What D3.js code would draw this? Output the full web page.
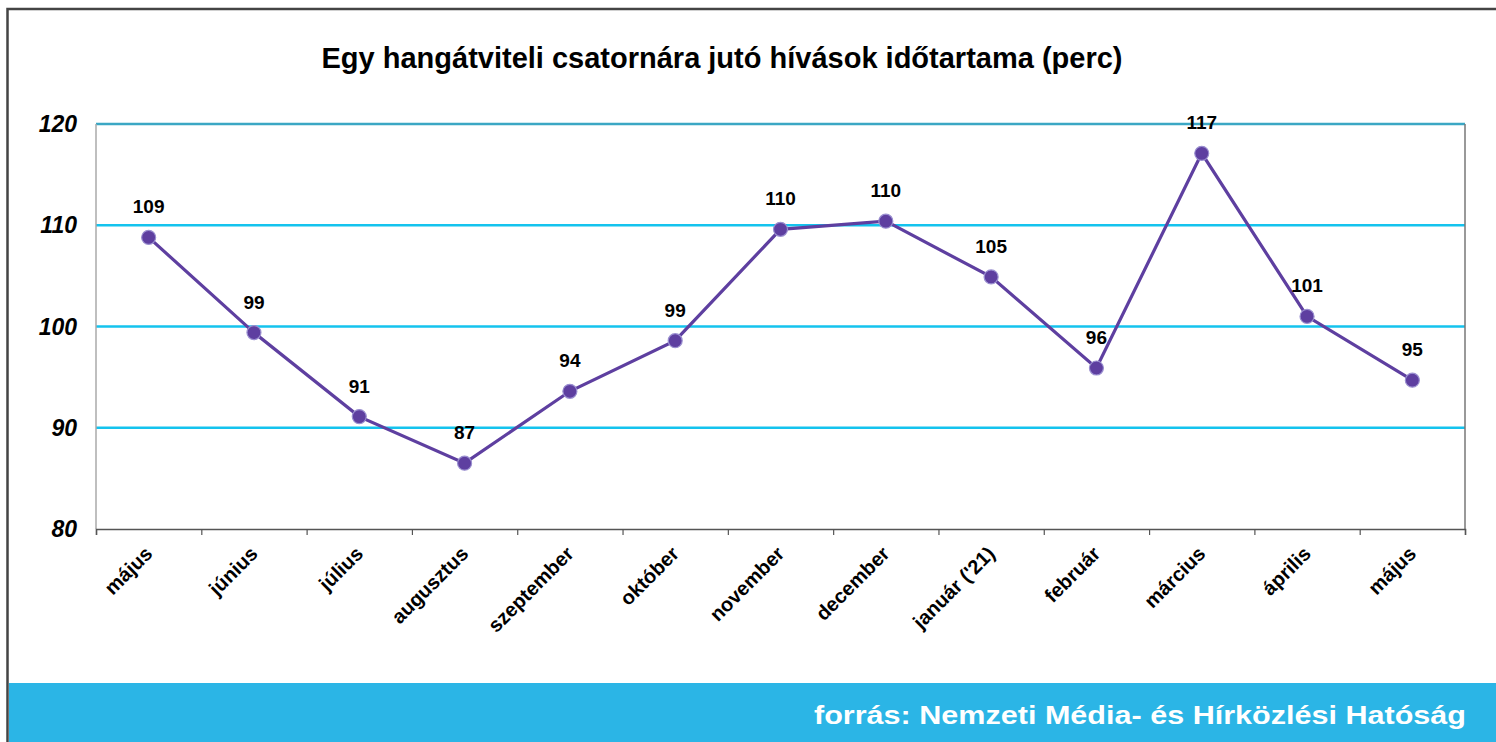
<!DOCTYPE html>
<html lang="hu">
<head>
<meta charset="UTF-8">
<title>Egy hangátviteli csatornára jutó hívások időtartama</title>
<script src="https://cdnjs.cloudflare.com/ajax/libs/d3/7.8.5/d3.min.js"></script>
<style>
  body { margin: 0; background: #fff; font-family: "Liberation Sans", Arial, sans-serif; }
  svg { display: block; }
</style>
</head>
<body>
<div id="chart"></div>
<script>
const months = ["május", "június", "július", "augusztus", "szeptember", "október",
  "november", "december", "január ('21)", "február", "március", "április", "május"];
const minutes = [108.8, 99.4, 91.1, 86.5, 93.6, 98.6, 109.6, 110.4, 104.9, 95.9, 117.1, 101.0, 94.7];
const yTicks = [80, 90, 100, 110, 120];

const W = 1496, H = 742;
const m = { left: 96, right: 1465, top: 124, bottom: 529 };

const svg = d3.select("#chart").append("svg")
  .attr("width", W).attr("height", H);

// outer frame
svg.append("rect").attr("x", 7.5).attr("y", 9).attr("width", W).attr("height", H)
  .attr("fill", "none").attr("stroke", "#444").attr("stroke-width", 2.5);

// footer band
svg.append("rect").attr("x", 9).attr("y", 683).attr("width", W - 9).attr("height", H - 683)
  .attr("fill", "#2bb5e6");
svg.append("text").attr("x", 1466).attr("y", 724).attr("text-anchor", "end")
  .attr("fill", "#fff").style("font-weight", "bold").style("font-size", "25px")
  .attr("textLength", 652).attr("lengthAdjust", "spacingAndGlyphs")
  .text("forrás: Nemzeti Média- és Hírközlési Hatóság");

// title
svg.append("text").attr("x", 722).attr("y", 68).attr("text-anchor", "middle")
  .style("font-weight", "bold").style("font-size", "29px")
  .text("Egy hangátviteli csatornára jutó hívások időtartama (perc)");

const x = d3.scaleBand().domain(d3.range(months.length)).range([m.left, m.right]);
const y = d3.scaleLinear().domain([80, 120]).range([m.bottom, m.top]);

// gridlines
svg.append("g").selectAll("line").data(yTicks.filter(t => t > 80)).join("line")
  .attr("x1", m.left).attr("x2", m.right)
  .attr("y1", d => y(d)).attr("y2", d => y(d))
  .attr("stroke", d => d === 120 ? "#3ba7c4" : "#14c3ee").attr("stroke-width", 2.5);

// plot frame: left and right sides
svg.append("line").attr("x1", m.left).attr("x2", m.left).attr("y1", m.top).attr("y2", m.bottom)
  .attr("stroke", "#aaa").attr("stroke-width", 1.5);
svg.append("line").attr("x1", m.right).attr("x2", m.right).attr("y1", m.top).attr("y2", m.bottom)
  .attr("stroke", "#777").attr("stroke-width", 1.5);

// y labels
svg.append("g").selectAll("text").data(yTicks).join("text")
  .attr("x", 77).attr("y", d => y(d) + 8).attr("text-anchor", "end")
  .style("font-weight", "bold").style("font-style", "italic").style("font-size", "23px")
  .text(d => d);

// x axis
const xAxis = d3.axisBottom(d3.scaleLinear().domain([0, months.length]).range([m.left, m.right]))
  .tickValues(d3.range(months.length + 1)).tickSize(6).tickFormat("");
const gx = svg.append("g").attr("transform", `translate(0,${m.bottom})`).call(xAxis);
gx.select(".domain").attr("stroke", "#555").attr("stroke-width", 1.5);
gx.selectAll(".tick line").attr("stroke", "#555").attr("stroke-width", 1.2);

svg.append("g").selectAll("text").data(months).join("text")
  .attr("transform", (d, i) => `translate(${x(i) + x.bandwidth() / 2 + 5},${m.bottom + 26}) rotate(-45)`)
  .attr("text-anchor", "end")
  .style("font-weight", "bold").style("font-size", "20px")
  .text(d => d);

// line
const line = d3.line().x((d, i) => x(i) + x.bandwidth() / 2).y(d => y(d));
svg.append("path").datum(minutes).attr("d", line)
  .attr("fill", "none").attr("stroke", "#5e3fa0").attr("stroke-width", 3.2);

svg.append("g").selectAll("circle").data(minutes).join("circle")
  .attr("cx", (d, i) => x(i) + x.bandwidth() / 2).attr("cy", d => y(d)).attr("r", 7)
  .attr("fill", "#5e3fa0").attr("stroke", "#9a8fd0").attr("stroke-width", 1.2);

svg.append("g").selectAll("text").data(minutes).join("text")
  .attr("x", (d, i) => x(i) + x.bandwidth() / 2).attr("y", d => y(d) - 24)
  .attr("text-anchor", "middle")
  .style("font-weight", "bold").style("font-size", "19px")
  .text(d => Math.round(d));
</script>
</body>
</html>
